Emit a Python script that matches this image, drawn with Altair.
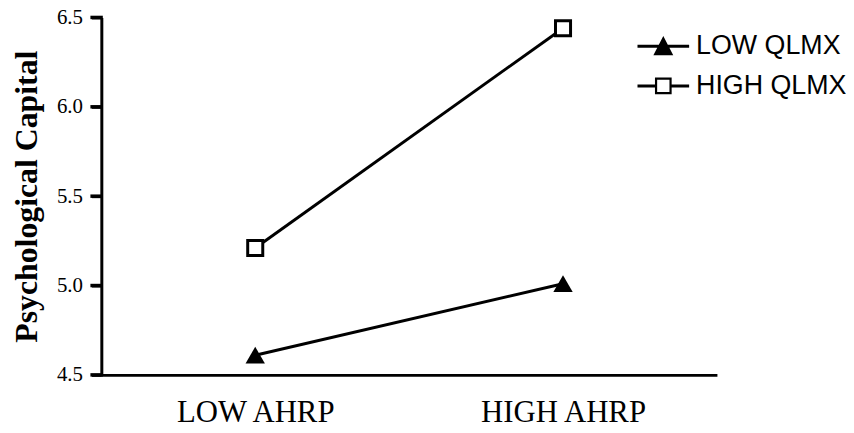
import altair as alt
import pandas as pd

categories = ["LOW AHRP", "HIGH AHRP"]
series_names = ["LOW QLMX", "HIGH QLMX"]
low_qlmx = [4.61, 5.01]
high_qlmx = [5.21, 6.44]
y_ticks = [4.5, 5.0, 5.5, 6.0, 6.5]

rows = []
for s, vals in zip(series_names, [low_qlmx, high_qlmx]):
    for c, v in zip(categories, vals):
        rows.append({"AHRP": c, "QLMX": s, "value": v})
df = pd.DataFrame(rows)
ticks_df = pd.DataFrame({"value": y_ticks})

# legend symbols: line segment + marker (custom filled paths)
legend_paths = [
    "M-1.3,-0.075H1.3V0.075H-1.3Z"
    "M0,-0.52L0.5,0.45L-0.5,0.45Z",
    "M-1.3,-0.075H-0.42V0.075H-1.3Z"
    "M0.42,-0.075H1.3V0.075H0.42Z"
    "M-0.42,-0.42H0.42V0.42H-0.42Z"
    "M-0.31,-0.31V0.31H0.31V-0.31Z",
]

x_enc = alt.X(
    "AHRP:N",
    sort=categories,
    scale=alt.Scale(type="point", padding=0.5),
    axis=alt.Axis(
        title=None,
        labelAngle=0,
        ticks=False,
        labelFont="Liberation Serif",
        labelFontSize=31,
        labelColor="black",
        labelPadding=23,
    ),
)
y_scale = alt.Scale(domain=[4.5, 6.5], nice=False, zero=False)
y_enc = alt.Y(
    "value:Q",
    scale=y_scale,
    axis=alt.Axis(
        title="Psychological Capital",
        values=y_ticks,
        format=".1f",
        ticks=True,
        tickSize=10,
        tickColor="black",
        tickWidth=3,
        labelFont="Liberation Serif",
        labelFontSize=21,
        labelColor="black",
        labelPadding=9,
        titleFont="Liberation Serif",
        titleFontSize=32,
        titleFontWeight="bold",
        titleColor="black",
        titlePadding=13,
    ),
)

base = alt.Chart(df).encode(x=x_enc, y=y_enc)

lines = base.mark_line(color="black", strokeWidth=3).encode(detail="QLMX:N")

tri = base.transform_filter(alt.datum.QLMX == "LOW QLMX").mark_point(
    shape="triangle-up", filled=True, color="black", size=380, opacity=1
)
sq = base.transform_filter(alt.datum.QLMX == "HIGH QLMX").mark_point(
    shape="square", filled=True, fill="white", stroke="black", strokeWidth=3, size=230, opacity=1
)

tick_marks = (
    alt.Chart(ticks_df)
    .mark_rule(color="black", strokeWidth=3.5)
    .encode(y=alt.Y("value:Q", scale=y_scale), x=alt.value(-11), x2=alt.value(1.5))
)

legend_layer = base.mark_point(filled=True, color="black", opacity=0).encode(
    shape=alt.Shape(
        "QLMX:N",
        scale=alt.Scale(domain=series_names, range=legend_paths),
        legend=alt.Legend(
            title=None,
            orient="none",
            legendX=546,
            legendY=9,
            symbolSize=1600,
            symbolFillColor="black",
            symbolStrokeWidth=0,
            symbolOpacity=1,
            labelFont="Liberation Sans",
            labelFontSize=27,
            labelColor="black",
            labelOffset=13,
            rowPadding=7,
            padding=0,
        ),
    )
)

chart = (
    alt.layer(lines, legend_layer, tri, sq, tick_marks)
    .properties(
        width=620,
        height=360,
        autosize=alt.AutoSizeParams(type="none"),
        padding={"left": 94, "top": 8, "right": 130, "bottom": 55},
        background="white",
    )
    .configure_view(stroke=None)
    .configure_axis(
        grid=False,
        domainColor="black",
        domainWidth=3,
    )
)

chart.save("out.html", embed_options={"renderer": "svg", "actions": False})
